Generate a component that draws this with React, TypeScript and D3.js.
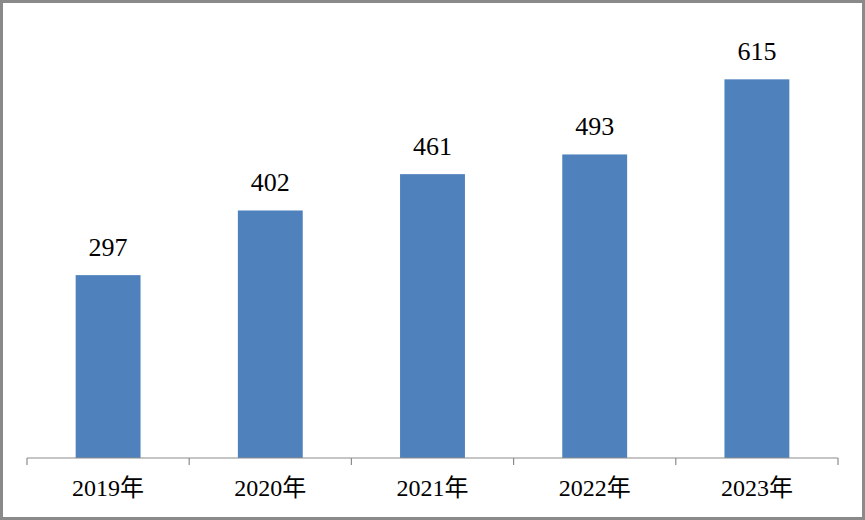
import React from "react";
import * as d3 from "d3";

const categories = ["2019年", "2020年", "2021年", "2022年", "2023年"];
const values = [297, 402, 461, 493, 615];
const yMax = 700;

const W = 865;
const H = 520;
const left = 27;
const right = 838;
const baseY = 458;
const topY = 27;

export default function App() {
  const x = d3.scaleBand<string>().domain(categories).range([left, right]).paddingInner(0.6).paddingOuter(0.3);
  const y = d3.scaleLinear().domain([0, yMax]).range([baseY, topY]);
  const step = (right - left) / categories.length;
  const ticks = d3.range(categories.length + 1).map((i) => left + i * step);
  const font = "'Liberation Serif', 'Noto Sans CJK SC', serif";
  return (
    <svg width={W} height={H} style={{ position: "fixed", left: 0, top: 0, background: "#fff" }}>
      <rect x={1.5} y={1.5} width={W - 3} height={H - 3} fill="#fff" stroke="#8a8a8a" strokeWidth={3} />
      {categories.map((c, i) => (
        <g key={c}>
          <rect x={x(c)} y={y(values[i])} width={x.bandwidth()} height={baseY - y(values[i])} fill="#4F81BD" />
          <text x={x(c)! + x.bandwidth() / 2} y={y(values[i]) - 19} textAnchor="middle" fontFamily={font} fontSize={26} fill="#000">
            {values[i]}
          </text>
          <text x={x(c)! + x.bandwidth() / 2} y={496} textAnchor="middle" fontFamily={font} fontSize={24} fill="#000">
            {c}
          </text>
        </g>
      ))}
      <line x1={left} x2={right} y1={baseY} y2={baseY} stroke="#8c8c8c" strokeWidth={1.2} />
      {ticks.map((t, i) => (
        <line key={i} x1={t} x2={t} y1={baseY} y2={baseY + 7} stroke="#8c8c8c" strokeWidth={1.2} />
      ))}
    </svg>
  );
}
